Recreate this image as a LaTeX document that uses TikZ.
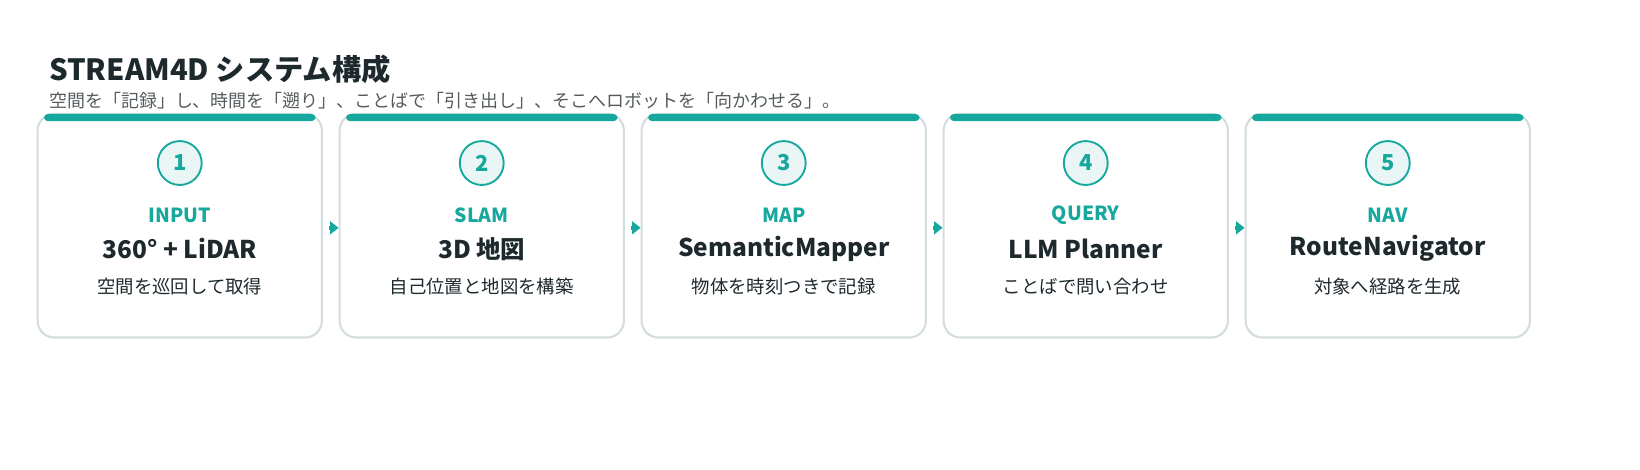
\documentclass[tikz,border=0pt]{standalone}
\usepackage{fontspec}
\setmainfont{Noto Sans CJK JP}
\usetikzlibrary{positioning, arrows.meta}
\definecolor{tealc}{HTML}{17A89D}
\definecolor{tealbg}{HTML}{E9F6F5}
\definecolor{cardline}{HTML}{D3DEDC}
\definecolor{ink}{HTML}{1E292D}
\definecolor{subgray}{HTML}{555B5E}
\tikzset{
  card/.style={draw=cardline, line width=1pt, rounded corners=8pt, minimum width=136pt, minimum height=107pt, inner sep=0pt},
  bar/.style={fill=tealc, rounded corners=2pt},
  stepnum/.style={circle, draw=tealc, line width=0.9pt, fill=tealbg, minimum size=21pt, inner sep=0pt, text=tealc, font=\fontsize{10.5}{12}\selectfont\bfseries},
  tag/.style={text=tealc, font=\fontsize{9.3}{11}\selectfont\bfseries},
  head/.style={text=ink, font=\fontsize{11.7}{14}\selectfont\bfseries},
  desc/.style={text=ink, font=\fontsize{8.8}{10}\selectfont},
  link/.style={-{Triangle[length=4pt,width=6pt]}, tealc, line width=2pt}
}
\begin{document}
\begin{tikzpicture}[x=0.5pt, y=-0.5pt]
  \useasboundingbox (0,0) rectangle (1640,470);
  \begin{scope}[transform canvas={scale=1.045}]
  %% title
  \node[anchor=west, text=ink, font=\fontsize{14}{16}\selectfont\bfseries] (title) at (40,66) {STREAM4D システム構成};
  \node[anchor=west, text=subgray, font=\fontsize{8.6}{10}\selectfont] (subtitle) at (40,96) {空間を「記録」し、時間を「遡り」、ことばで「引き出し」、そこへロボットを「向かわせる」。};
  %% cards
  \foreach \i/\tg/\hd/\ds in {1/INPUT/360° + LiDAR/空間を巡回して取得,
                              2/SLAM/3D 地図/自己位置と地図を構築,
                              3/MAP/SemanticMapper/物体を時刻つきで記録,
                              4/QUERY/LLM Planner/ことばで問い合わせ,
                              5/NAV/RouteNavigator/対象へ経路を生成}{
    \pgfmathsetmacro{\cx}{172+(\i-1)*289}
    \node[card] (card\i) at (\cx,216) {};
    \fill[bar] (\cx-130,109) rectangle (\cx+130,116);
    \node[stepnum] (num\i) at (\cx,156) {\i};
    \node[tag] (tag\i) at (\cx,206) {\tg};
    \node[head] (head\i) at (\cx,238) {\hd};
    \node[desc] (desc\i) at (\cx,274) {\ds};
  }
  %% arrows
  \foreach \a/\b in {1/2, 2/3, 3/4, 4/5}
    \draw[link] ([xshift=3pt,yshift=-1pt]card\a.east) -- ([yshift=-1pt]card\b.west);
  \end{scope}
\end{tikzpicture}
\end{document}
